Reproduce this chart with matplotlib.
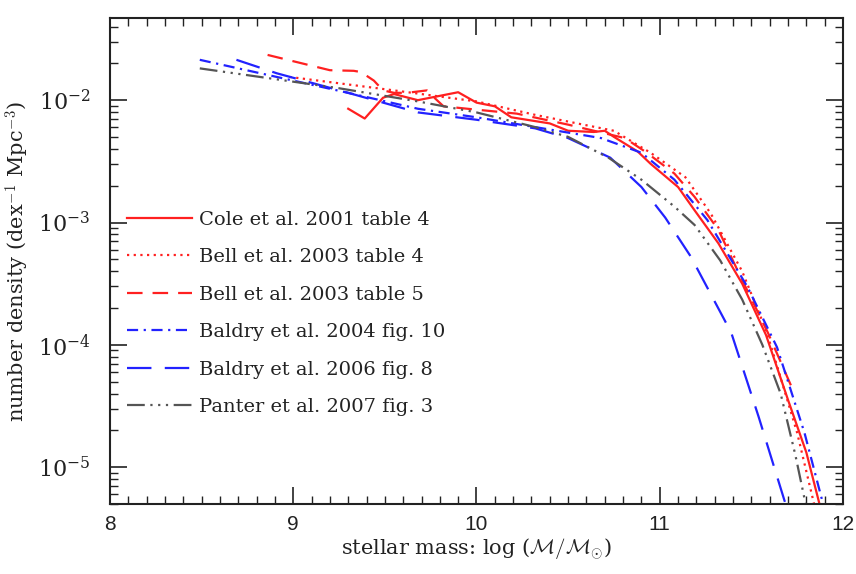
import numpy as np
import matplotlib
matplotlib.use("Agg")
import matplotlib.pyplot as plt
from matplotlib.ticker import LogLocator, MultipleLocator, NullFormatter

plt.rcParams['font.family'] = ['DejaVu Serif']
plt.rcParams['mathtext.fontset'] = 'cm'

# log10 stellar mass vs log10 number density
cole_x = [9.30, 9.39, 9.49, 9.55, 9.68, 9.90, 10.0, 10.10, 10.19, 10.40, 10.50, 10.64,
          10.70, 10.75, 10.88, 10.95, 11.10, 11.19, 11.32, 11.45, 11.58, 11.70, 11.80, 11.88]
cole_y = [-2.07, -2.15, -1.98, -1.95, -2.00, -1.935, -2.02, -2.05, -2.14, -2.19, -2.25, -2.26,
          -2.25, -2.30, -2.42, -2.52, -2.71, -2.90, -3.17, -3.50, -3.92, -4.45, -4.88, -5.35]

bell4_x = [8.98, 9.24, 9.55, 10.0, 10.32, 10.55, 10.75, 10.95, 11.14, 11.28, 11.45,
           11.58, 11.65, 11.75, 11.85]
bell4_y = [-1.81, -1.86, -1.92, -2.01, -2.12, -2.19, -2.25, -2.43, -2.63, -2.93, -3.40,
           -3.88, -4.22, -4.72, -5.35]

bell5_x = [8.86, 9.20, 9.33, 9.37, 9.44, 9.49, 9.55, 9.62, 9.73, 9.77, 9.82, 9.95,
           10.22, 10.50, 10.81, 10.93, 11.08, 11.19, 11.32, 11.44, 11.59, 11.73]
bell5_y = [-1.63, -1.755, -1.76, -1.77, -1.84, -1.92, -1.94, -1.94, -1.92, -1.98, -2.05, -2.07,
           -2.11, -2.20, -2.31, -2.43, -2.60, -2.79, -3.06, -3.44, -3.90, -4.38]

bald04_x = [8.49, 9.24, 9.68, 10.0, 10.32, 10.68, 10.90, 11.08, 11.26, 11.48, 11.64, 11.79, 11.90]
bald04_y = [-1.67, -1.92, -2.07, -2.14, -2.22, -2.31, -2.43, -2.65, -2.98, -3.53, -4.02, -4.72, -5.35]

bald06_x = [8.69, 8.91, 9.30, 9.68, 10.0, 10.32, 10.50, 10.73, 10.90, 11.03, 11.17,
            11.39, 11.54, 11.68, 11.72]
bald06_y = [-1.67, -1.78, -1.94, -2.10, -2.16, -2.23, -2.31, -2.47, -2.71, -2.96, -3.28,
            -3.90, -4.59, -5.27, -5.45]

panter_x = [8.49, 9.24, 9.68, 10.0, 10.32, 10.50, 10.72, 10.90, 11.08, 11.19, 11.33,
            11.45, 11.56, 11.66, 11.74, 11.81]
panter_y = [-1.74, -1.90, -2.01, -2.10, -2.22, -2.30, -2.47, -2.65, -2.87, -3.02, -3.31,
            -3.63, -4.00, -4.40, -4.90, -5.40]

labels = ["Cole et al. 2001 table 4", "Bell et al. 2003 table 4", "Bell et al. 2003 table 5",
          "Baldry et al. 2004 fig. 10", "Baldry et al. 2006 fig. 8", "Panter et al. 2007 fig. 3"]

red = "#ff2020"
blue = "#2222ff"
grey = "#555555"

series = [
    (cole_x, cole_y, red, "-"),
    (bell4_x, bell4_y, red, (0, (1, 2))),
    (bell5_x, bell5_y, red, (0, (7, 4.5))),
    (bald04_x, bald04_y, blue, (0, (5, 2.5, 1, 2.5))),
    (bald06_x, bald06_y, blue, (0, (11, 6))),
    (panter_x, panter_y, grey, (0, (8, 2.5, 1, 2.5, 1, 2.5, 1, 2.5))),
]

fig = plt.figure(figsize=(8.56, 5.74), dpi=100)
ax = fig.add_axes([0.1285, 0.122, 0.8563, 0.8467])

for (x, y, c, ls), lab in zip(series, labels):
    ax.plot(x, 10 ** np.array(y), color=c, ls=ls, lw=1.6, label=lab)

ax.set_yscale("log")
ax.set_xlim(8, 12)
ax.set_ylim(5e-6, 4.7e-2)
ax.xaxis.set_major_locator(MultipleLocator(1))
ax.xaxis.set_minor_locator(MultipleLocator(0.1))
ax.yaxis.set_major_locator(LogLocator(base=10, numticks=10))
ax.yaxis.set_minor_locator(LogLocator(base=10, subs=np.arange(2, 10), numticks=20))
ax.yaxis.set_minor_formatter(NullFormatter())

ax.tick_params(which="both", direction="in", top=True, right=True, colors="#222222")
ax.tick_params(which="major", length=12, width=1.2)
ax.tick_params(which="minor", length=6, width=1.0)
ax.tick_params(axis="x", which="major", labelsize=15, pad=8)
ax.tick_params(axis="y", which="major", labelsize=16, pad=14)
for lbl in ax.get_xticklabels():
    lbl.set_family("Liberation Sans")
for s in ax.spines.values():
    s.set_linewidth(1.5)
    s.set_color("#222222")

ax.set_xlabel(r"stellar mass: log ($\mathcal{M}/\mathcal{M}_{\odot}$)", fontsize=15,
              color="#222222", labelpad=2)
ax.set_ylabel(r"number density (dex$^{-1}$ Mpc$^{-3}$)", fontsize=15, color="#222222",
              labelpad=4)

leg = ax.legend(loc="lower left", bbox_to_anchor=(0.012, 0.165), frameon=False, fontsize=14,
                handlelength=3.35, handletextpad=0.36, labelspacing=1.0, borderaxespad=0)
for t in leg.get_texts():
    t.set_color("#222222")

fig.savefig("out.png", dpi=100)
